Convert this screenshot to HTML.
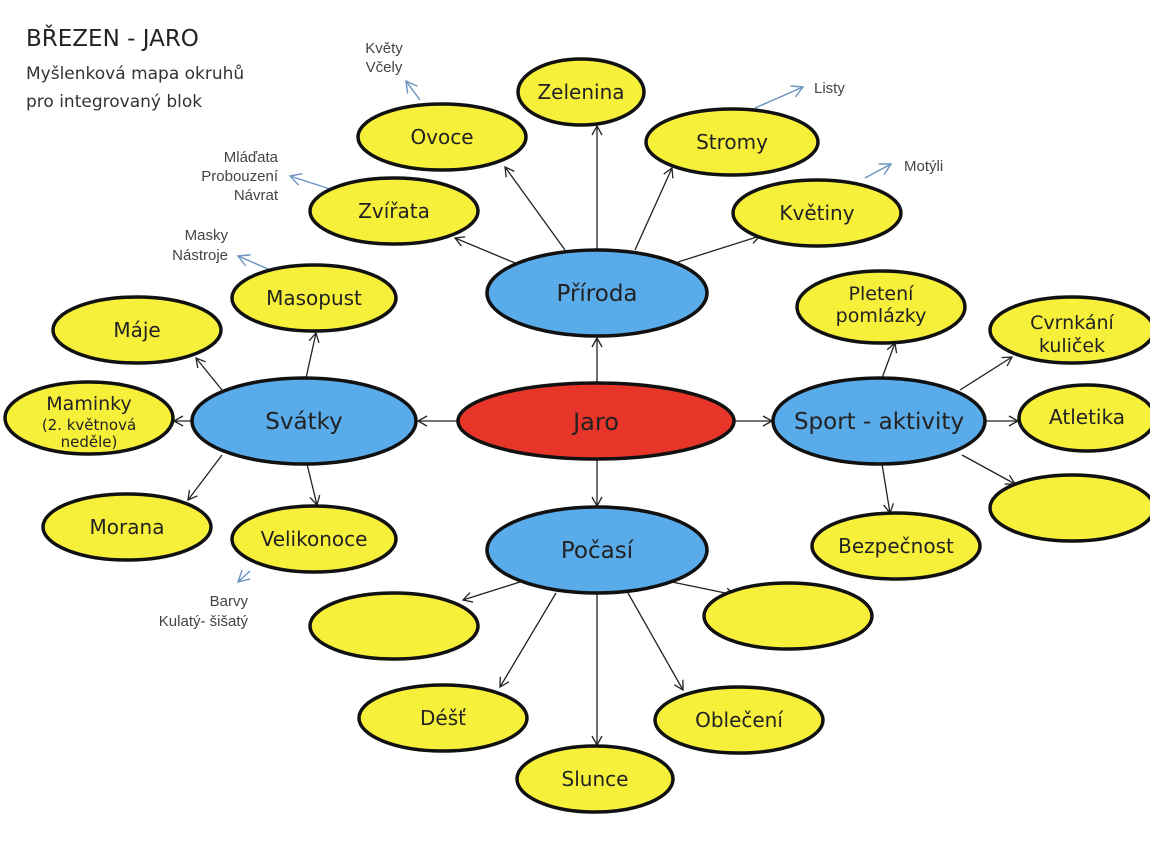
<!DOCTYPE html>
<html><head><meta charset="utf-8"><style>
body{margin:0;background:#fff}
svg{display:block}
text{font-family:"DejaVu Sans","Liberation Sans",sans-serif}
.s text{font-family:"Liberation Sans",sans-serif}
</style></head><body>
<svg width="1150" height="859" viewBox="0 0 1150 859" xmlns="http://www.w3.org/2000/svg">
<defs>
<marker id="a" markerWidth="12" markerHeight="12" refX="10" refY="6" orient="auto" markerUnits="userSpaceOnUse"><polyline points="1,1 10,6 1,11" fill="none" stroke="#222" stroke-width="1.3"/></marker>
<marker id="b" markerWidth="14" markerHeight="14" refX="12" refY="7" orient="auto" markerUnits="userSpaceOnUse"><polyline points="1,1 12,7 1,13" fill="none" stroke="#6a93c0" stroke-width="1.4"/></marker>
</defs>
<text x="26" y="46" font-size="23" fill="#222">BŘEZEN - JARO</text>
<text x="26" y="79" font-size="17" fill="#333">Myšlenková mapa okruhů</text>
<text x="26" y="107" font-size="17" fill="#333">pro integrovaný blok</text>

<g stroke="#222" stroke-width="1.3" marker-end="url(#a)" fill="none">
<line x1="597" y1="383" x2="597" y2="338"/>
<line x1="458" y1="421" x2="418" y2="421"/>
<line x1="734" y1="421" x2="772" y2="421"/>
<line x1="597" y1="459" x2="597" y2="506"/>
<line x1="597" y1="250" x2="597" y2="126"/>
<line x1="565" y1="250" x2="505" y2="167"/>
<line x1="635" y1="250" x2="672" y2="168"/>
<line x1="515" y1="263" x2="455" y2="238"/>
<line x1="678" y1="262" x2="760" y2="236"/>
<line x1="306" y1="378" x2="316" y2="333"/>
<line x1="222" y1="390" x2="196" y2="358"/>
<line x1="192" y1="421" x2="174" y2="421"/>
<line x1="222" y1="455" x2="188" y2="500"/>
<line x1="307" y1="464" x2="317" y2="505"/>
<line x1="882" y1="378" x2="895" y2="343"/>
<line x1="960" y1="390" x2="1012" y2="357"/>
<line x1="985" y1="421" x2="1018" y2="421"/>
<line x1="962" y1="455" x2="1015" y2="484"/>
<line x1="882" y1="464" x2="890" y2="513"/>
<line x1="520" y1="582" x2="463" y2="600"/>
<line x1="672" y1="582" x2="735" y2="595"/>
<line x1="556" y1="593" x2="500" y2="687"/>
<line x1="628" y1="593" x2="683" y2="690"/>
<line x1="597" y1="593" x2="597" y2="745"/>
</g>
<g stroke="#6a93c0" stroke-width="1.4" marker-end="url(#b)" fill="none">
<line x1="420" y1="100" x2="406" y2="81"/>
<line x1="755" y1="108" x2="803" y2="87"/>
<line x1="330" y1="189" x2="290" y2="176"/>
<line x1="865" y1="178" x2="891" y2="164"/>
<line x1="268" y1="269" x2="238" y2="256"/>
<line x1="250" y1="571" x2="238" y2="582"/>
</g>

<g class="s" font-size="15" fill="#444" text-anchor="middle">
<text x="384" y="53">Květy</text><text x="384" y="72">Včely</text>
<text x="278" y="162" text-anchor="end">Mláďata</text>
<text x="278" y="181" text-anchor="end">Probouzení</text>
<text x="278" y="200" text-anchor="end">Návrat</text>
<text x="228" y="240" text-anchor="end">Masky</text>
<text x="228" y="260" text-anchor="end">Nástroje</text>
<text x="814" y="93" text-anchor="start">Listy</text>
<text x="904" y="171" text-anchor="start">Motýli</text>
<text x="248" y="606" text-anchor="end">Barvy</text>
<text x="248" y="626" text-anchor="end">Kulatý- šišatý</text>
</g>

<g stroke="#111" stroke-width="3.5" fill="#f7f03a">
<ellipse cx="581" cy="92" rx="63" ry="33"/>
<ellipse cx="442" cy="137" rx="84" ry="33"/>
<ellipse cx="732" cy="142" rx="86" ry="33"/>
<ellipse cx="394" cy="211" rx="84" ry="33"/>
<ellipse cx="817" cy="213" rx="84" ry="33"/>
<ellipse cx="314" cy="298" rx="82" ry="33"/>
<ellipse cx="137" cy="330" rx="84" ry="33"/>
<ellipse cx="89" cy="418" rx="84" ry="36"/>
<ellipse cx="127" cy="527" rx="84" ry="33"/>
<ellipse cx="314" cy="539" rx="82" ry="33"/>
<ellipse cx="881" cy="307" rx="84" ry="36"/>
<ellipse cx="1072" cy="330" rx="82" ry="33"/>
<ellipse cx="1087" cy="418" rx="68" ry="33"/>
<ellipse cx="1072" cy="508" rx="82" ry="33"/>
<ellipse cx="896" cy="546" rx="84" ry="33"/>
<ellipse cx="394" cy="626" rx="84" ry="33"/>
<ellipse cx="788" cy="616" rx="84" ry="33"/>
<ellipse cx="443" cy="718" rx="84" ry="33"/>
<ellipse cx="739" cy="720" rx="84" ry="33"/>
<ellipse cx="595" cy="779" rx="78" ry="33"/>
</g>
<g stroke="#111" stroke-width="3.5" fill="#5aabea">
<ellipse cx="597" cy="293" rx="110" ry="43"/>
<ellipse cx="304" cy="421" rx="112" ry="43"/>
<ellipse cx="879" cy="421" rx="106" ry="43"/>
<ellipse cx="597" cy="550" rx="110" ry="43"/>
</g>
<ellipse cx="596" cy="421" rx="138" ry="38" fill="#e8352a" stroke="#111" stroke-width="3.5"/>

<g font-size="20" fill="#222" text-anchor="middle">
<text x="596" y="430" font-size="24">Jaro</text>
<text x="597" y="301" font-size="23">Příroda</text>
<text x="304" y="429" font-size="23">Svátky</text>
<text x="879" y="429" font-size="23">Sport - aktivity</text>
<text x="597" y="558" font-size="23">Počasí</text>
<text x="581" y="99">Zelenina</text>
<text x="442" y="144">Ovoce</text>
<text x="732" y="149">Stromy</text>
<text x="394" y="218">Zvířata</text>
<text x="817" y="220">Květiny</text>
<text x="314" y="305">Masopust</text>
<text x="137" y="337">Máje</text>
<text x="89" y="410" font-size="19">Maminky</text>
<text x="89" y="430" font-size="15">(2. květnová</text>
<text x="89" y="447" font-size="15">neděle)</text>
<text x="127" y="534">Morana</text>
<text x="314" y="546">Velikonoce</text>
<text x="881" y="300" font-size="19">Pletení</text>
<text x="881" y="322" font-size="19">pomlázky</text>
<text x="1072" y="329" font-size="19">Cvrnkání</text>
<text x="1072" y="352" font-size="19">kuliček</text>
<text x="1087" y="424">Atletika</text>
<text x="896" y="553">Bezpečnost</text>
<text x="443" y="725">Déšť</text>
<text x="739" y="727">Oblečení</text>
<text x="595" y="786">Slunce</text>
</g>
</svg>
</body></html>
